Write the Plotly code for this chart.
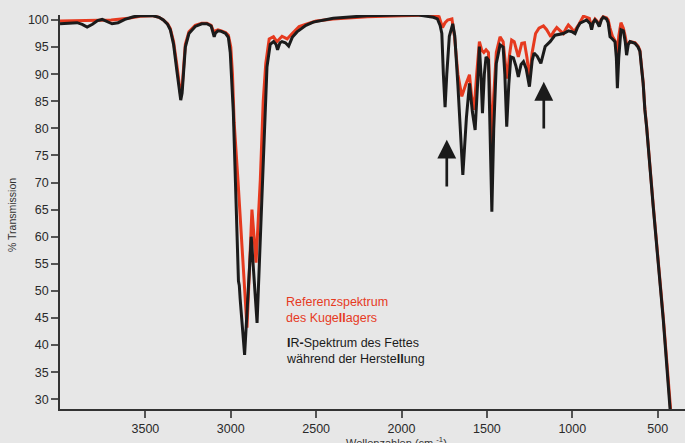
import plotly.graph_objects as go

# Black: IR spectrum of the grease during production
black_wn = [4000, 3950, 3900, 3870, 3841, 3810, 3780, 3753, 3720, 3695, 3660, 3620, 3570, 3530, 3460, 3420,
            3395, 3370, 3354, 3335, 3315, 3300, 3293, 3285, 3275, 3266, 3245, 3208, 3170, 3140, 3115, 3105,
            3097, 3090, 3075, 3055, 3030, 3014, 3003, 2985, 2973, 2960, 2955, 2950, 2945, 2919, 2880, 2846,
            2814, 2800, 2788, 2769, 2749, 2735, 2726, 2712, 2700, 2680, 2661, 2640, 2612, 2560, 2517, 2400,
            2203, 2000, 1900, 1813, 1790, 1774, 1764, 1755, 1745, 1735, 1720, 1700, 1688, 1670, 1641, 1620,
            1602, 1585, 1569, 1555, 1544, 1535, 1526, 1515, 1505, 1491, 1482, 1471, 1460, 1445, 1423, 1405,
            1395, 1384, 1372, 1360, 1345, 1330, 1316, 1300, 1286, 1270, 1251, 1235, 1224, 1205, 1184, 1170,
            1159, 1130, 1101, 1052, 1023, 1000, 984, 970, 955, 916, 895, 887, 878, 867, 855, 842, 830, 819,
            800, 790, 779, 765, 750, 742, 736, 728, 715, 701, 690, 682, 672, 662, 633, 615, 604, 594, 585,
            575, 565, 526, 513, 467, 428, 400]
black_t = [99.3, 99.4, 99.5, 99.2, 98.7, 99.2, 99.9, 100.1, 99.7, 99.3, 99.5, 100.1, 100.6, 100.8, 100.8, 100.5,
           100.0, 99.2, 98.2, 95.5, 90.5, 86.0, 85.2, 86.5, 91.5, 95.0, 97.5, 98.8, 99.3, 99.3, 98.9, 98.0,
           96.9, 97.6, 98.0, 97.9, 97.5, 96.8, 94.0, 83.0, 70.5, 55.0, 51.8, 51.0, 48.5, 38.2, 60.0, 44.1,
           70.5, 84.0, 91.3, 95.5, 96.0, 95.5, 94.5, 95.8, 96.0, 95.8, 95.2, 96.8, 97.8, 99.0, 99.6, 100.3,
           100.8, 100.9, 100.9, 100.5, 100.2, 99.0, 97.5, 90.0, 83.9, 90.0, 97.0, 99.3, 97.0, 88.0, 71.4, 82.0,
           88.3, 83.0, 79.7, 88.0, 95.1, 90.0, 82.8, 90.0, 93.2, 92.6, 80.0, 64.6, 80.0, 92.0, 95.4, 95.0,
           90.0, 80.3, 88.0, 93.2, 93.0, 91.5, 89.5, 91.8, 92.3, 91.0, 87.7, 92.5, 93.9, 93.3, 92.0, 94.0,
           95.1, 96.0, 97.2, 97.5, 98.0, 97.8, 97.5, 98.6, 99.4, 100.0, 99.3, 98.2, 99.5, 100.0, 99.6, 98.8, 100.0, 100.5,
           100.2, 99.5, 96.9, 96.5, 96.0, 93.0, 87.4, 93.0, 98.2, 98.0, 96.0, 93.5, 95.5, 96.0, 95.7, 95.0, 94.2, 91.0, 88.3,
           83.4, 80.3, 65.5, 61.2, 44.6, 28.4, 18.0]

# Red: reference spectrum of the ball bearing
red_wn = [4000, 3900, 3700, 3600, 3530, 3460, 3420, 3395, 3370, 3354, 3335, 3315, 3300, 3293, 3285, 3275,
          3266, 3245, 3208, 3170, 3140, 3115, 3100, 3090, 3075, 3055, 3030, 3014, 3000, 2990, 2980, 2958,
          2905, 2876, 2852, 2827, 2810, 2795, 2775, 2750, 2730, 2700, 2670, 2640, 2600, 2550, 2500, 2400,
          2200, 2000, 1900, 1813, 1780, 1760, 1745, 1730, 1705, 1690, 1670, 1647, 1625, 1602, 1590, 1575,
          1560, 1544, 1530, 1518, 1505, 1491, 1482, 1471, 1460, 1445, 1423, 1405, 1392, 1380, 1368, 1355,
          1340, 1328, 1316, 1296, 1280, 1265, 1251, 1235, 1215, 1195, 1169, 1150, 1126, 1110, 1091, 1070,
          1052, 1035, 1023, 1005, 990, 965, 935, 900, 887, 878, 867, 855, 842, 830, 819, 800, 790, 779,
          765, 750, 742, 736, 728, 715, 701, 690, 682, 672, 662, 633, 615, 604, 594, 585, 575, 565, 526,
          513, 467, 425, 400]
red_t = [99.8, 99.9, 100.0, 100.3, 100.7, 100.8, 100.5, 100.0, 99.3, 98.4, 96.0, 91.5, 87.0, 86.0, 87.5, 92.0,
         95.5, 97.8, 99.0, 99.4, 99.4, 99.0, 97.8, 98.0, 98.2, 98.0, 97.7, 97.2, 95.0, 90.0, 81.0, 70.5,
         43.2, 65.0, 55.2, 70.5, 85.0, 92.0, 96.5, 96.9, 96.0, 97.0, 96.5, 97.5, 98.8, 99.3, 99.8, 100.2,
         100.6, 100.8, 100.9, 100.9, 100.6, 98.6, 99.5, 100.0, 100.2, 97.0, 90.0, 85.9, 88.0, 89.9, 86.0, 83.4,
         90.0, 96.0, 94.4, 94.0, 94.5, 94.0, 86.0, 76.9, 86.0, 94.0, 96.9, 96.0, 92.0, 89.2, 93.5, 96.3,
         96.0, 94.5, 93.2, 95.7, 95.8, 93.0, 89.0, 94.0, 97.5, 98.5, 98.9, 98.2, 96.9, 97.8, 98.6, 98.0,
         97.5, 98.5, 99.1, 98.5, 97.8, 99.0, 100.7, 100.3, 98.5, 99.6, 100.2, 99.8, 99.0, 100.2, 100.6, 100.4, 100.0, 98.5,
         97.0, 96.2, 95.0, 93.0, 97.0, 99.5, 98.5, 97.0, 95.5, 95.6, 96.0, 95.8, 95.2, 94.4, 91.2, 88.5, 83.6, 80.5, 65.8,
         61.5, 45.0, 28.4, 20.0]

x_ticks = [3500, 3000, 2500, 2000, 1500, 1000, 500]
y_ticks = [30, 35, 40, 45, 50, 55, 60, 65, 70, 75, 80, 85, 90, 95, 100]

RED = "#e63a1f"
BLACK = "#1b1b1b"
BG = "#e7e7e7"
SANS = "Liberation Sans, Arial, sans-serif"

fig = go.Figure()
fig.add_trace(go.Scatter(x=red_wn, y=red_t, mode="lines",
                         line=dict(color=RED, width=3), hoverinfo="skip", showlegend=False))
fig.add_trace(go.Scatter(x=black_wn, y=black_t, mode="lines",
                         line=dict(color=BLACK, width=3), hoverinfo="skip", showlegend=False))

annotations = [
    dict(x=2690, y=49.6, xref="x", yref="y", xanchor="left", yanchor="top", showarrow=False, align="left",
         text="Referenzspektrum<br>des Kuge<b>ll</b>agers", font=dict(family=SANS, size=12.5, color=RED)),
    dict(x=2690, y=42.1, xref="x", yref="y", xanchor="left", yanchor="top", showarrow=False, align="left",
         text="<b>I</b>R<b>-</b>Spektrum des Fettes<br>während der Herste<b>ll</b>ung",
         font=dict(family=SANS, size=12.5, color=BLACK)),
    dict(x=1735, y=77.9, xref="x", yref="y", ax=1735, ay=69.0, axref="x", ayref="y",
         showarrow=True, arrowhead=2, arrowsize=1.4, arrowwidth=2.7, arrowcolor=BLACK, text=""),
    dict(x=1167, y=88.6, xref="x", yref="y", ax=1167, ay=79.7, axref="x", ayref="y",
         showarrow=True, arrowhead=2, arrowsize=1.4, arrowwidth=2.7, arrowcolor=BLACK, text=""),
    dict(x=-0.077, y=0.492, xref="paper", yref="paper", xanchor="center", yanchor="middle",
         showarrow=False, textangle=-90,
         text="% Transmission", font=dict(family=SANS, size=10.5, color="#333333")),
    dict(x=0.539, y=-0.062, xref="paper", yref="paper", xanchor="center", yanchor="top", showarrow=False,
         text="Wellenzahlen (cm <sup>-1</sup>)", font=dict(family=SANS, size=11, color="#333333")),
]

fig.update_layout(
    width=685, height=443,
    margin=dict(l=60, r=0, t=15, b=34, autoexpand=False),
    paper_bgcolor=BG, plot_bgcolor=BG,
    annotations=annotations,
    xaxis=dict(range=[4000, 340], tickvals=x_ticks, ticktext=[str(v) for v in x_ticks],
               showgrid=False, zeroline=False, showline=True, linecolor="#333333", linewidth=1.5,
               ticks="outside", ticklen=7, tickwidth=1.5, tickcolor="#555555",
               tickfont=dict(family=SANS, size=12.5, color="#2a2a2a"), automargin=False),
    yaxis=dict(range=[28.2, 100.92], tickvals=y_ticks, ticktext=[str(v) for v in y_ticks],
               showgrid=False, zeroline=False, showline=True, linecolor="#333333", linewidth=1.5,
               ticks="outside", ticklen=7, tickwidth=1.5, tickcolor="#555555",
               tickfont=dict(family=SANS, size=12.5, color="#2a2a2a"), automargin=False),
)

fig.write_html("out.html", config={"displayModeBar": False},
               post_script="document.body.style.margin='0';document.body.style.background='#e7e7e7';")
